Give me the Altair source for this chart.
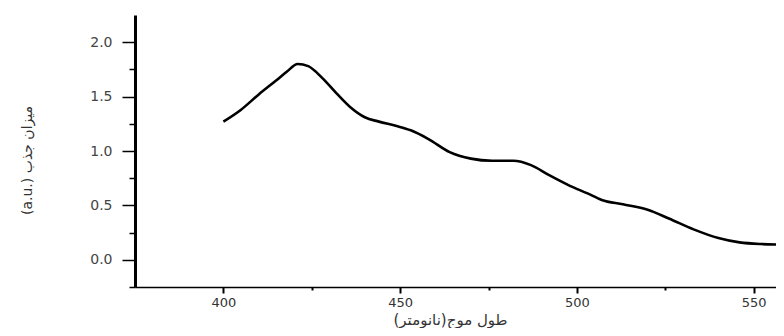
import altair as alt
import pandas as pd

# Wavelength (nm) and absorbance (a.u.)
wavelength = [400, 405, 410, 415, 418, 421, 424, 428, 432, 436, 440, 444, 449,
              453, 458, 464, 470, 476, 482, 487, 492, 498, 503, 507, 513, 520,
              526, 533, 540, 546, 552, 558.5]
absorbance = [1.27, 1.38, 1.52, 1.65, 1.73, 1.80, 1.78, 1.67, 1.53, 1.40, 1.31,
              1.27, 1.23, 1.19, 1.11, 0.99, 0.93, 0.91, 0.91, 0.87, 0.78, 0.68,
              0.61, 0.55, 0.51, 0.46, 0.38, 0.28, 0.20, 0.16, 0.145, 0.14]

x_ticks = [400, 425, 450, 475, 500, 525, 550]
y_ticks = [-0.25, 0.0, 0.25, 0.5, 0.75, 1.0, 1.25, 1.5, 1.75, 2.0]

x_title = "طول موج(نانومتر)\u200f"
y_title = "(a.u.) میزان جذب"

df = pd.DataFrame({"wl": wavelength, "abs": absorbance})

font = "DejaVu Sans"

chart = alt.Chart(df).mark_line(
    color="black", strokeWidth=2.6, interpolate="monotone", clip=True
).encode(
    x=alt.X("wl:Q",
            scale=alt.Scale(domain=[375, 556.3], nice=False, zero=False),
            axis=alt.Axis(
                values=x_ticks,
                labelExpr="datum.value % 50 === 0 ? datum.label : ''",
                tickSize={"condition": {"test": "datum.value % 50 === 0", "value": 6}, "value": 3},
                tickColor="black", tickWidth=2,
                domainColor="black", domainWidth=1.5,
                labelFont=font, labelFontSize=13, labelColor="#333333",
                labelPadding=3, labelFlush=False,
                grid=False,
                title=x_title, titleFont=font, titleFontSize=15,
                titleFontWeight="normal", titleColor="#333333",
                titleX=315, titleY=32, titleBaseline="middle", titleAlign="center",
            )),
    y=alt.Y("abs:Q",
            scale=alt.Scale(domain=[-0.25, 2.25], nice=False, zero=False),
            axis=alt.Axis(
                values=y_ticks,
                format=".1f",
                labelExpr="(datum.value % 0.5 === 0 && datum.value >= 0) ? datum.label : ''",
                tickSize={"condition": {"test": "datum.value % 0.5 === 0", "value": 13}, "value": 6},
                tickColor="black", tickWidth=1.5,
                domainColor="black", domainWidth=3,
                labelFont=font, labelFontSize=14, labelColor="#444444",
                labelPadding=10, labelFlush=False,
                grid=False,
                title=y_title, titleFont=font, titleFontSize=14,
                titleFontWeight="normal", titleColor="#333333",
                titleAngle=270, titleX=-108, titleY=145,
                titleBaseline="middle", titleAlign="center",
            )),
).properties(
    width=641, height=272,
    padding={"left": 127, "top": 7, "right": 0, "bottom": 41},
    autosize=alt.AutoSizeParams(type="none"),
).configure_view(strokeWidth=0)

chart.save("out.html", embed_options={"renderer": "svg", "actions": False})
